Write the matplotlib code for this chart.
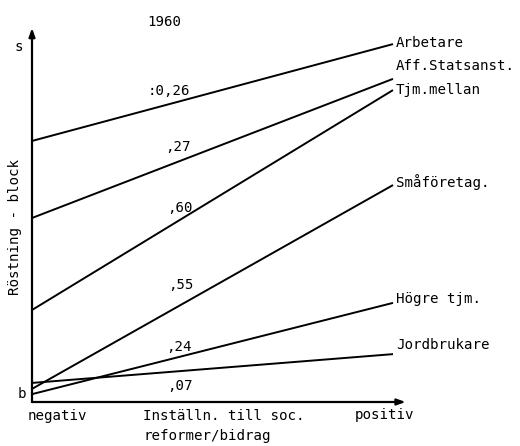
import matplotlib.pyplot as plt

# groups, left (negativ) and right (positiv) end values, scale 0..100
groups = ["Arbetare", "Aff.Statsanst.", "Tjm.mellan", "Småföretag.", "Högre tjm.", "Jordbrukare"]
left_vals = [69.8, 49.2, 24.6, 3.5, 2.1, 5.1]
right_vals = [95.7, 86.4, 83.4, 58.0, 26.5, 12.8]

coef_labels = [":0,26", ",27", ",60", ",55", ",24", ",07"]
coef_y = [83.2, 68.2, 51.9, 31.3, 14.7, 4.3]
coef_x = [0.38, 0.405, 0.41, 0.413, 0.408, 0.41]

# label offsets (pixels) from the line end
label_dy = [1, 13, 0, 3, 4, 9]

fig = plt.figure(figsize=(5.2, 4.46), dpi=100)
W, H = 520, 446
ax = fig.add_axes([32 / W, (H - 402) / H, (393 - 32) / W, (402 - 28) / H])
ax.set_xlim(0, 1)
ax.set_ylim(0, 100)
ax.axis("off")

mono = "DejaVu Sans Mono"
fs = 10.2

for g, l, r, dy in zip(groups, left_vals, right_vals, label_dy):
    ax.plot([0, 1], [l, r], color="black", lw=1.4, solid_capstyle="butt", clip_on=False)
    ax.annotate(g, (1, r), xytext=(3, dy), textcoords="offset pixels",
                ha="left", va="center", family=mono, fontsize=fs)

for t, x, y in zip(coef_labels, coef_x, coef_y):
    ax.text(x, y, t, ha="center", va="center", family=mono, fontsize=fs)

# axes with arrows
arrow = dict(arrowstyle="-|>,head_length=0.5,head_width=0.18", color="black", lw=1.6,
             shrinkA=0, shrinkB=0)
ax.annotate("", xy=(0, 100), xytext=(0, 0), arrowprops=arrow, annotation_clip=False)
ax.annotate("", xy=(1.035, 0), xytext=(0, 0), arrowprops=arrow, annotation_clip=False)

def ftext(px, py, s, **kw):
    fig.text(px / W, 1 - py / H, s, family=mono, fontsize=fs, **kw)

ftext(164, 22, "1960", ha="center", va="center")
ftext(19, 47, "s", ha="center", va="center")
ftext(22, 394, "b", ha="center", va="center")
ftext(15, 227, "Röstning - block", ha="center", va="center", rotation=90)
ftext(28, 416, "negativ", ha="left", va="center")
ftext(143, 416, "Inställn. till soc.", ha="left", va="center")
ftext(143, 436, "reformer/bidrag", ha="left", va="center")
ftext(355, 415, "positiv", ha="left", va="center")

fig.savefig("out.png", dpi=100)
